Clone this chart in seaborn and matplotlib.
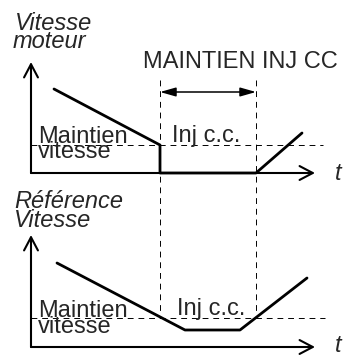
import matplotlib
matplotlib.use("Agg")
import matplotlib.pyplot as plt
import seaborn as sns

sns.set_style("white")
plt.rcParams['font.family'] = ['Liberation Sans', 'DejaVu Sans']

# time / speed points of the two curves (arbitrary units)
t_moteur = [2.3, 12.9, 12.9, 22.5, 27.1]
v_moteur = [8.4, 2.8, 0.0, 0.0, 4.0]
t_ref = [2.6, 15.4, 20.9, 27.6]
v_ref = [8.4, 1.7, 1.7, 6.9]
maintien_top = 2.8
maintien_bot = 2.9
t_inj = [12.9, 22.5]      # start / end of DC injection
offset_top = 17.4         # vertical offset of upper panel

fig = plt.figure(figsize=(3.47, 3.55), dpi=100)
ax = fig.add_axes([0, 0, 1, 1])
ax.set_xlim(-3.1, 31.6)
ax.set_ylim(-0.8, 34.7)
ax.axis('off')

# curves
sns.lineplot(x=t_moteur, y=[v + offset_top for v in v_moteur], sort=False,
             color='black', lw=2.0, ax=ax, estimator=None)
sns.lineplot(x=t_ref, y=v_ref, sort=False, color='black', lw=2.0, ax=ax, estimator=None)

# axes arrows
axis_arrow = dict(arrowstyle='->,head_length=0.95,head_width=0.5', lw=1.5, color='black',
                  shrinkA=0, shrinkB=0)
for y0, ytop in [(offset_top, offset_top + 11.1), (0, 11.2)]:
    ax.annotate('', xy=(28.4, y0), xytext=(0, y0), arrowprops=axis_arrow)
    ax.annotate('', xy=(0, ytop), xytext=(0, y0), arrowprops=axis_arrow)

# dashed guides
dash = dict(color='black', lw=0.7, dashes=(6, 5))
ax.plot([0, 29.2], [offset_top + maintien_top] * 2, **dash)
ax.plot([0, 29.4], [maintien_bot] * 2, **dash)
for t in t_inj:
    ax.plot([t, t], [26.7, 3.2], **dash)

# double arrow for DC injection period
ax.annotate('', xy=(t_inj[1], 25.5), xytext=(t_inj[0], 25.5),
            arrowprops=dict(arrowstyle='<|-|>,head_length=0.95,head_width=0.27',
                            lw=1.1, color='black', shrinkA=0, shrinkB=0))

fs = 17
ax.text(-1.6, 31.7, 'Vitesse', fontsize=fs, style='italic', va='baseline')
ax.text(-1.8, 29.9, 'moteur', fontsize=fs, style='italic', va='baseline')
ax.text(11.2, 27.9, 'MAINTIEN INJ CC', fontsize=fs, va='baseline')
ax.text(0.7, 20.4, 'Maintien', fontsize=fs, va='baseline')
ax.text(0.7, 18.9, 'vitesse', fontsize=fs, va='baseline')
ax.text(14.1, 20.5, 'Inj c.c.', fontsize=fs, va='baseline')
ax.text(30.4, 16.7, 't', fontsize=fs, style='italic', va='baseline')

ax.text(-1.7, 13.9, 'Référence', fontsize=fs, style='italic', va='baseline')
ax.text(-1.7, 12.0, 'Vitesse', fontsize=fs, style='italic', va='baseline')
ax.text(0.7, 3.0, 'Maintien', fontsize=fs, va='baseline')
ax.text(0.7, 1.4, 'vitesse', fontsize=fs, va='baseline')
ax.text(14.6, 3.2, 'Inj c.c.', fontsize=fs, va='baseline')
ax.text(30.4, -0.5, 't', fontsize=fs, style='italic', va='baseline')

fig.savefig('out.png', dpi=100)
